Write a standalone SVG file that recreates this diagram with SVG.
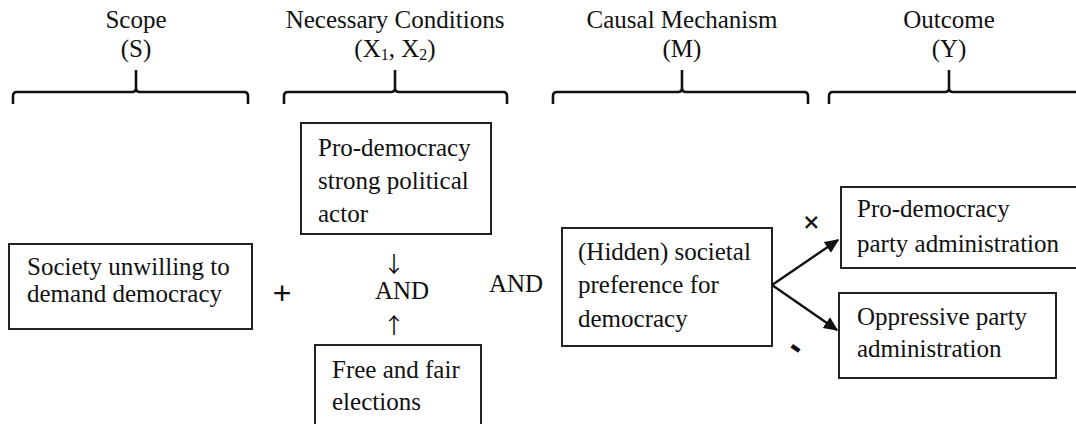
<svg xmlns="http://www.w3.org/2000/svg" width="1076" height="424" viewBox="0 0 1076 424">
<style>
text{font-family:"Liberation Serif","Times New Roman",serif;font-size:25px;fill:#111}
.c{text-anchor:middle}
.box{fill:#fff;stroke:#222;stroke-width:2}
.brace{fill:none;stroke:#111;stroke-width:2.6}
.sym{font-family:"Liberation Sans",Arial,sans-serif}
.arr{font-family:"Noto Sans CJK JP","Noto Sans CJK SC",sans-serif;fill:#111}
.sub{font-size:16px}
.conn{fill:none;stroke:#111;stroke-width:2.4}
</style>
<defs>
<marker id="ah" viewBox="0 0 10 10" refX="9" refY="5" markerWidth="6" markerHeight="6" orient="auto" markerUnits="strokeWidth">
<path d="M0,0.5 L10,5 L0,9.5 Z" fill="#111"/>
</marker>
</defs>
<rect width="1076" height="424" fill="#fff"/>
<g id="headers">
<text class="c" x="136" y="28">Scope</text>
<text class="c" x="136" y="57">(S)</text>
<text class="c" x="395" y="28">Necessary Conditions</text>
<text class="c" x="395" y="57">(X<tspan class="sub" dy="3">1</tspan><tspan dy="-3">, X</tspan><tspan class="sub" dy="3">2</tspan><tspan dy="-3">)</tspan></text>
<text class="c" x="682" y="28">Causal Mechanism</text>
<text class="c" x="682" y="57">(M)</text>
<text class="c" x="949" y="28">Outcome</text>
<text class="c" x="949" y="57">(Y)</text>
</g>
<g id="braces">
<path class="brace" d="M13,104 V96 Q13,92 17,92 H132 Q136,92 136,88 V70 M136,88 Q136,92 140,92 H244 Q248,92 248,96 V104"/>
<path class="brace" d="M284,104 V96 Q284,92 288,92 H391 Q395,92 395,88 V70 M395,88 Q395,92 399,92 H503 Q507,92 507,96 V104"/>
<path class="brace" d="M553,104 V96 Q553,92 557,92 H678 Q682,92 682,88 V70 M682,88 Q682,92 686,92 H804 Q808,92 808,96 V104"/>
<path class="brace" d="M829,104 V96 Q829,92 833,92 H945 Q949,92 949,88 V70 M949,88 Q949,92 953,92 H1076"/>
</g>
<g id="n-society">
<rect class="box" x="9" y="244" width="243" height="85"/>
<text x="27" y="275">Society unwilling to</text>
<text x="27" y="302">demand democracy</text>
</g>
<g id="n-actor">
<rect class="box" x="301" y="123" width="190" height="111"/>
<text x="318" y="156">Pro-democracy</text>
<text x="318" y="189">strong political</text>
<text x="318" y="222">actor</text>
</g>
<g id="n-elections">
<rect class="box" x="315" y="345" width="166" height="90"/>
<text x="332" y="378">Free and fair</text>
<text x="332" y="410">elections</text>
</g>
<g id="n-and1">
<text class="c arr" x="394" y="272" style="font-size:22px">↓</text>
<text class="c" x="402" y="299">AND</text>
<text class="c arr" x="394" y="333" style="font-size:22px">↑</text>
</g>
<g id="n-plus">
<text class="c sym" x="282" y="304" style="font-size:32px">+</text>
</g>
<g id="n-and2">
<text class="c" x="516" y="292">AND</text>
</g>
<g id="n-hidden">
<rect class="box" x="562" y="228" width="210" height="118"/>
<text x="578" y="260">(Hidden) societal</text>
<text x="578" y="293">preference for</text>
<text x="578" y="327">democracy</text>
</g>
<g id="n-prodem">
<rect class="box" x="841" y="187" width="250" height="81"/>
<text x="857" y="217">Pro-democracy</text>
<text x="857" y="252">party administration</text>
</g>
<g id="n-oppressive">
<rect class="box" x="839" y="293" width="217" height="85"/>
<text x="857" y="325">Oppressive party</text>
<text x="857" y="357">administration</text>
</g>
<g id="connectors">
<line class="conn" x1="772" y1="285" x2="838" y2="240" marker-end="url(#ah)"/>
<line class="conn" x1="772" y1="285" x2="837" y2="330" marker-end="url(#ah)"/>
<text class="sym c" x="811" y="233" style="font-size:32px" transform="rotate(-45 811 222)">+</text>
<text class="sym c" x="797" y="358" style="font-size:36px;font-weight:bold" transform="rotate(35 797 346)">-</text>
</g>
</svg>
